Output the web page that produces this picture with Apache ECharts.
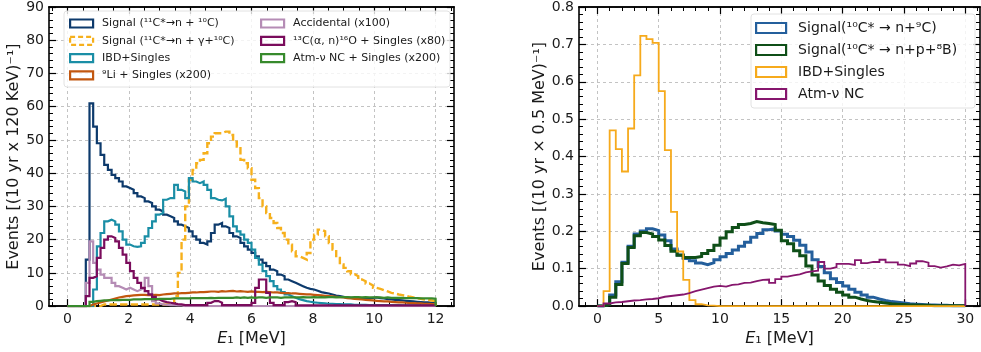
<!DOCTYPE html>
<html>
<head>
<meta charset="utf-8">
<script src="https://cdn.jsdelivr.net/npm/echarts@6/dist/echarts.min.js"></script>
<style>
  html, body { margin: 0; padding: 0; background: #fff; }
  #chart { width: 981px; height: 352px; }
</style>
</head>
<body>
<div id="chart"></div>
<script>
// left panel: 120 keV bins from 0 to 12 MeV
const leftBinWidth = 0.12;
const signalN10C = [
  0, 0, 0, 0, 0, 14, 61, 54, 49, 45.5,
  42.5, 41, 39.5, 38.5, 37.5, 36, 35.5, 35, 34, 33,
  32.5, 31.5, 31, 30, 29, 28.5, 27.5, 27, 26.5, 25.5,
  24.5, 24, 23.5, 22.5, 21, 20, 19, 18.5, 19.5, 22,
  24.5, 25, 24, 23.5, 22, 21, 20.5, 19, 18, 17,
  16, 15, 14, 13, 12, 11, 10.5, 9.5, 9, 8,
  7.5, 7, 6.5, 6, 5.5, 5.2, 5, 4.6, 4.2, 4,
  3.8, 3.5, 3.2, 3, 2.8, 2.6, 2.5, 2.4, 2.3, 2.2,
  2.2, 2.3, 2.5, 2.6, 2.4, 2.3, 2.1, 2, 1.9, 1.8,
  1.7, 1.6, 1.5, 1.4, 1.3, 1.2, 1.1, 1.1, 1, 1
];
const signalNGamma = [
  0, 0, 0, 0, 0, 0, 0, 0, 0, 0.5,
  0.5, 0.5, 0.5, 0.5, 0.5, 0.5, 0.5, 0.5, 0.5, 0.5,
  0.5, 0.5, 0.5, 0.5, 0.5, 0.5, 0.5, 0.5, 0.5, 3,
  10, 20, 30, 38, 41, 43, 44, 46, 49, 51,
  52, 52, 52.5, 52.5, 51.5, 49.5, 48, 44, 43, 41.5,
  38, 35.5, 32.5, 30, 28, 26.5, 25, 23.5, 22, 20,
  18.5, 16.5, 15, 14.5, 14, 16, 20, 21.5, 23, 22.5,
  21, 19, 17, 14.5, 12.5, 11.5, 10.5, 9.6, 9, 8,
  7.5, 6.8, 6.2, 5.5, 5.2, 4.8, 4.4, 4, 3.8, 3.5,
  3.3, 3.1, 2.8, 2.6, 2.4, 2.2, 2, 1.9, 1.7, 1.5
];
const ibdSinglesLeft = [
  0, 0, 0, 0, 0, 0, 0, 5, 18, 22,
  25.5, 26, 25.5, 24.5, 22.5, 20, 18.5, 18, 17.8, 18,
  19, 21, 23.5, 25.5, 27.5, 28, 32, 32.5, 32.5, 36.5,
  35, 34.5, 32.5, 38.5, 37.5, 37, 37.5, 36.5, 35, 32.5,
  32, 31.8, 32.3, 30, 27, 24, 22.5, 21.5, 20, 19,
  17, 14.5, 12.5, 10.5, 9, 7.5, 6, 5, 4.2, 3.5,
  3, 2.5, 2.1, 1.8, 1.5, 1.3, 1.1, 1, 0.9, 0.8,
  0.7, 0.7, 0.6, 0.6, 0.5, 0.5, 0.5, 0.4, 0.4, 0.4,
  0.4, 0.3, 0.3, 0.3, 0.3, 0.3, 0.3, 0.3, 0.3, 0.3,
  0.2, 0.2, 0.2, 0.2, 0.2, 0.2, 0.2, 0.2, 0.2, 0.2
];
const li9Singles = [
  0, 0, 0, 0, 0, 0, 0.5, 0.8, 1.1, 1.4,
  1.7, 2, 2.3, 2.6, 2.8, 3, 3.1, 3.2, 3.3, 3.4,
  3.4, 3.3, 3.3, 3.4, 3.3, 3.5, 3.6, 3.7, 3.8, 3.8,
  3.9, 3.9, 4, 4.1, 4.1, 4.2, 4.2, 4.3, 4.4, 4.4,
  4.3, 4.5, 4.4, 4.5, 4.6, 4.4, 4.5, 4.4, 4.3, 4.4,
  4.3, 4.3, 4.2, 4.3, 4.2, 4.1, 4.1, 4, 3.9, 3.9,
  3.8, 3.8, 3.7, 3.6, 3.5, 3.5, 3.4, 3.3, 3.2, 3.1,
  3, 2.9, 2.8, 2.7, 2.6, 2.4, 2.3, 2.2, 2.1, 2,
  1.9, 1.8, 1.7, 1.6, 1.5, 1.4, 1.4, 1.3, 1.2, 1.1,
  1.1, 1, 0.9, 0.9, 0.8, 0.8, 0.7, 0.7, 0.6, 0.6
];
const accidental = [
  0, 0, 0, 0, 0, 7, 19.5, 13, 11, 9.5,
  8.5, 8.5, 7, 6, 5.5, 5, 5.5, 5, 4.5, 5,
  5.5, 8.5, 6, 1.5, 0.8, 0.5, 0.4, 0.3, 0.3, 0.2,
  0.2, 0, 0, 0, 0, 0, 0, 0, 0, 0,
  0, 0, 0, 0, 0, 0, 0, 0, 0, 0,
  0, 0, 0, 0, 0, 0, 0, 0, 0, 0,
  0, 0, 0, 0, 0, 0, 0, 0, 0, 0,
  0, 0, 0, 0, 0, 0, 0, 0, 0, 0,
  0, 0, 0, 0, 0, 0, 0, 0, 0, 0,
  0, 0, 0, 0, 0, 0, 0, 0, 0, 0
];
const c13Singles = [
  0, 0, 0, 0, 0, 3, 8.5, 9, 14.5, 17.5,
  20, 21, 20.5, 19.5, 17.5, 15.5, 13, 10.5, 8.5, 7,
  5.5, 4.5, 3.5, 2.8, 2, 1.5, 1.2, 1, 0.8, 0.6,
  0.5, 0.3, 0.3, 0.3, 0.3, 0.3, 0.3, 0.3, 1, 1.5,
  1.5, 1, 0.3, 0.3, 0.3, 0.3, 0.3, 0.3, 0.3, 0.3,
  1, 5.5, 8, 8, 4, 1, 0.3, 0.3, 0.3, 1.2,
  1.5, 1.2, 0.2, 0.2, 0.2, 0.2, 0.2, 0.2, 0.2, 0.2,
  0.2, 0.2, 0.2, 0.2, 0.2, 0.2, 0.2, 0.2, 0.2, 0.2,
  0.2, 0.2, 0.2, 0.2, 0.2, 0.2, 0.2, 0.2, 0.2, 0.2,
  0.2, 0.2, 0.2, 0.2, 0.2, 0.2, 0.2, 0.2, 0.2, 0.2
];
const atmNcSingles = [
  0, 0, 0, 0, 0, 0, 1.3, 1.5, 1.6, 1.7,
  1.7, 1.8, 1.8, 1.8, 1.9, 1.9, 1.9, 2, 2, 2,
  2.1, 2.1, 2.1, 2.1, 2.2, 2.2, 2.2, 2.2, 2.3, 2.3,
  2.3, 2.3, 2.3, 2.4, 2.4, 2.4, 2.4, 2.4, 2.5, 2.4,
  2.5, 2.5, 2.5, 2.5, 2.5, 2.6, 2.5, 2.6, 2.5, 2.6,
  2.5, 2.6, 2.6, 2.5, 2.6, 2.6, 2.6, 2.5, 2.6, 2.6,
  2.6, 2.6, 2.6, 2.7, 2.6, 2.6, 2.7, 2.6, 2.7, 2.6,
  2.7, 2.7, 2.6, 2.7, 2.7, 2.7, 2.6, 2.7, 2.7, 2.6,
  2.7, 2.6, 2.6, 2.6, 2.6, 2.5, 2.6, 2.5, 2.5, 2.5,
  2.5, 2.4, 2.4, 2.4, 2.4, 2.3, 2.3, 2.3, 2.3, 2.2
];

// right panel: 0.5 MeV bins from 0 to 30 MeV
const rightBinWidth = 0.5;
const signalN9C = [
  0, 0.005, 0.03, 0.065, 0.117, 0.16, 0.193, 0.201, 0.207, 0.202,
  0.19, 0.175, 0.153, 0.137, 0.127, 0.121, 0.115, 0.111, 0.116, 0.124,
  0.132, 0.141, 0.15, 0.16, 0.171, 0.184, 0.194, 0.204, 0.207, 0.201,
  0.192, 0.186, 0.176, 0.163, 0.145, 0.124, 0.106, 0.089, 0.073, 0.063,
  0.054, 0.045, 0.037, 0.03, 0.024, 0.019, 0.015, 0.012, 0.01, 0.008,
  0.006, 0.005, 0.004, 0.003, 0.003, 0.002, 0.002, 0.001, 0.001, 0.001
];
const signalNP8B = [
  0, 0.004, 0.024, 0.058, 0.114, 0.157, 0.188, 0.197, 0.193, 0.186,
  0.177, 0.162, 0.147, 0.136, 0.13, 0.13, 0.133, 0.141, 0.149, 0.163,
  0.182, 0.199, 0.21, 0.218, 0.221, 0.226, 0.223, 0.221, 0.218, 0.203,
  0.175, 0.167, 0.148, 0.135, 0.107, 0.083, 0.067, 0.055, 0.045, 0.037,
  0.03, 0.024, 0.019, 0.015, 0.012, 0.01, 0.008, 0.006, 0.005, 0.004,
  0.003, 0.003, 0.002, 0.002, 0.001, 0.001, 0.001, 0.001, 0.001, 0.001
];
const ibdSinglesRight = [
  0, 0.04, 0.47, 0.42, 0.36, 0.475, 0.617, 0.723, 0.714, 0.704,
  0.575, 0.417, 0.252, 0.146, 0.07, 0.016, 0.005, 0.002, 0.001, 0,
  0, 0, 0, 0, 0, 0, 0, 0, 0, 0,
  0, 0, 0, 0, 0, 0, 0, 0, 0, 0,
  0, 0, 0, 0, 0, 0, 0, 0, 0, 0,
  0, 0, 0, 0, 0, 0, 0, 0, 0, 0
];
const atmNc = [
  0, 0.007, 0.01, 0.011, 0.013, 0.015, 0.016, 0.018, 0.019, 0.021,
  0.025, 0.027, 0.029, 0.031, 0.035, 0.04, 0.044, 0.048, 0.052, 0.054,
  0.052, 0.057, 0.058, 0.062, 0.063, 0.067, 0.07, 0.071, 0.062, 0.072,
  0.079, 0.082, 0.085, 0.09, 0.093, 0.095, 0.118, 0.1, 0.104, 0.113,
  0.113, 0.11, 0.123, 0.115, 0.118, 0.118, 0.124, 0.117, 0.117, 0.111,
  0.107, 0.114, 0.12, 0.116, 0.107, 0.103, 0.106, 0.111, 0.109, 0.113
];

const leftXTicks = [0, 2, 4, 6, 8, 10, 12];
const rightXTicks = [0, 5, 10, 15, 20, 25, 30];

const FONT = 'DejaVu Sans';
const INK = '#1a1a1a';

function stepData(values, width) {
  const pts = [[0, 0]];
  values.forEach((v, i) => pts.push([+(i * width).toFixed(3), v]));
  const end = +(values.length * width).toFixed(3);
  pts.push([end, values[values.length - 1]]);
  pts.push([end, 0]);
  return pts;
}

function minorList(from, to, step) {
  const out = [];
  for (let v = from; v <= to + 1e-9; v += step) out.push(+v.toFixed(3));
  return out;
}

const gridLine = { show: true, lineStyle: { color: '#b4b4b4', width: 0.8, type: [3, 3] } };
const spine = { show: true, onZero: false, lineStyle: { color: '#000', width: 1.6 } };

function xAxesFor(grid, min, max, major, minor) {
  const base = { type: 'value', gridIndex: grid, min: min, max: max, axisLine: spine };
  return [
    Object.assign({}, base, {
      position: 'bottom',
      axisTick: { inside: true, length: 7, customValues: major, lineStyle: { color: '#000', width: 1.2 } },
      axisLabel: { customValues: major, margin: 6, fontSize: 14, fontFamily: FONT, color: INK },
      splitLine: gridLine,
      name: '{it|E}\u2081 [MeV]', nameLocation: 'middle', nameGap: 19,
      nameTextStyle: { fontSize: 16, fontFamily: FONT, color: INK,
        rich: { it: { fontSize: 16, fontFamily: FONT, fontStyle: 'italic', color: INK } } }
    }),
    Object.assign({}, base, {
      position: 'bottom',
      axisTick: { inside: true, length: 4, customValues: minor, lineStyle: { color: '#000', width: 1 } },
      axisLabel: { show: false }, splitLine: { show: false }
    }),
    Object.assign({}, base, {
      position: 'top',
      axisTick: { inside: true, length: 7, customValues: major, lineStyle: { color: '#000', width: 1.2 } },
      axisLabel: { show: false }, splitLine: { show: false }
    }),
    Object.assign({}, base, {
      position: 'top',
      axisTick: { inside: true, length: 4, customValues: minor, lineStyle: { color: '#000', width: 1 } },
      axisLabel: { show: false }, splitLine: { show: false }
    })
  ];
}

function yAxesFor(grid, max, interval, title, nameGap, digits) {
  const base = {
    type: 'value', gridIndex: grid, min: 0, max: max, interval: interval, axisLine: spine,
    axisTick: { inside: true, length: 7, lineStyle: { color: '#000', width: 1.2 } },
    minorTick: { show: true, splitNumber: 5, length: 4, lineStyle: { color: '#000', width: 1 } }
  };
  return [
    Object.assign({}, base, {
      position: 'left',
      axisLabel: { margin: 5, fontSize: 14, fontFamily: FONT, color: INK,
        formatter: v => v.toFixed(digits) },
      splitLine: gridLine,
      name: title, nameLocation: 'middle', nameGap: nameGap,
      nameTextStyle: { fontSize: 16, fontFamily: FONT, color: INK }
    }),
    Object.assign({}, base, {
      position: 'right', axisLabel: { show: false }, splitLine: { show: false }
    })
  ];
}

function hist(name, values, width, color, lw, xi, yi, dashed) {
  return {
    name: name, type: 'line', step: 'end', symbol: 'none',
    xAxisIndex: xi, yAxisIndex: yi,
    data: stepData(values, width),
    lineStyle: { color: color, width: lw, type: dashed ? [7.4, 3.2] : 'solid', join: 'miter', cap: 'butt' },
    itemStyle: { color: color },
    emphasis: { disabled: true },
    silent: true
  };
}

function legendItem(name, color, dashed) {
  return { name: name, itemStyle: { color: 'rgba(0,0,0,0)', borderColor: color, borderWidth: 2.2,
    borderType: dashed ? [5, 3] : 'solid' } };
}

const C = {
  navy: '#0d3a6c', gold: '#f6b01c', teal: '#1a8ea6', brown: '#c2570f',
  lilac: '#b58cb5', plum: '#7a0c5c', green: '#378a2c',
  blue: '#245f9c', dgreen: '#0f4f18', yellow: '#f6aa1c', purple: '#86166d'
};

const names = {
  n10c: 'Signal (\u00b9\u00b9C*\u2192n + \u00b9\u2070C)',
  ng10c: 'Signal (\u00b9\u00b9C*\u2192n + \u03b3+\u00b9\u2070C)',
  ibd: 'IBD+Singles',
  li9: '\u2079Li + Singles (x200)',
  acc: 'Accidental (x100)',
  c13: '\u00b9\u00b3C(\u03b1, n)\u00b9\u2076O + Singles (x80)',
  atm: 'Atm-\u03bd NC + Singles (x200)',
  n9c: 'Signal(\u00b9\u2070C* \u2192 n+\u2079C)',
  np8b: 'Signal(\u00b9\u2070C* \u2192 n+p+\u2078B)',
  atmR: 'Atm-\u03bd NC'
};

const chart = echarts.init(document.getElementById('chart'), null, { renderer: 'canvas' });

const leftText = { fontSize: 11, fontFamily: FONT, color: INK, lineHeight: 13, padding: [0, 0, 0, 4] };
const rightText = { fontSize: 14, fontFamily: FONT, color: INK, lineHeight: 16, padding: [0, 0, 0, 7] };

chart.setOption({
  animation: false,
  backgroundColor: '#fff',
  grid: [
    { left: 49, top: 5, width: 405, height: 302 },
    { left: 579, top: 5, width: 401, height: 302 }
  ],
  xAxis: [].concat(
    xAxesFor(0, -0.6, 12.6, leftXTicks, minorList(-0.5, 12.5, 0.5)),
    xAxesFor(1, -1.5, 31.2, rightXTicks, minorList(-1, 31, 1))
  ),
  yAxis: [].concat(
    yAxesFor(0, 90, 10, 'Events [(10 yr x 120 KeV)\u207b\u00b9]', 26, 0),
    yAxesFor(1, 0.8, 0.1, 'Events [(10 yr \u00d7 0.5 MeV)\u207b\u00b9]', 29, 1)
  ),
  graphic: [
    { type: 'rect', z: 3, silent: true, shape: { x: 64, y: 11, width: 386, height: 76, r: 3 },
      style: { fill: 'rgba(255,255,255,0.8)', stroke: '#e2e2e2', lineWidth: 1 } },
    { type: 'rect', z: 3, silent: true, shape: { x: 751, y: 14, width: 224, height: 94, r: 3 },
      style: { fill: 'rgba(255,255,255,0.8)', stroke: '#e2e2e2', lineWidth: 1 } }
  ],
  legend: [
    { left: 69, top: 17, orient: 'vertical', icon: 'rect', itemWidth: 23, itemHeight: 8, itemGap: 4.3,
      padding: 0, selectedMode: false, textStyle: leftText,
      data: [legendItem(names.n10c, C.navy), legendItem(names.ng10c, C.gold, true),
             legendItem(names.ibd, C.teal), legendItem(names.li9, C.brown)] },
    { left: 260, top: 17, orient: 'vertical', icon: 'rect', itemWidth: 23, itemHeight: 8, itemGap: 4.3,
      padding: 0, selectedMode: false, textStyle: leftText,
      data: [legendItem(names.acc, C.lilac), legendItem(names.c13, C.plum), legendItem(names.atm, C.green)] },
    { left: 755, top: 20, orient: 'vertical', icon: 'rect', itemWidth: 30, itemHeight: 10, itemGap: 6,
      padding: 0, selectedMode: false, textStyle: rightText,
      data: [legendItem(names.n9c, C.blue), legendItem(names.np8b, C.dgreen),
             legendItem(names.ibd, C.yellow), legendItem(names.atmR, C.purple)] }
  ],
  series: [
    hist(names.n10c, signalN10C, leftBinWidth, C.navy, 2.2, 0, 0),
    hist(names.ng10c, signalNGamma, leftBinWidth, C.gold, 2.4, 0, 0, true),
    hist(names.ibd, ibdSinglesLeft, leftBinWidth, C.teal, 2.2, 0, 0),
    hist(names.li9, li9Singles, leftBinWidth, C.brown, 2.2, 0, 0),
    hist(names.acc, accidental, leftBinWidth, C.lilac, 2.2, 0, 0),
    hist(names.c13, c13Singles, leftBinWidth, C.plum, 2.2, 0, 0),
    hist(names.atm, atmNcSingles, leftBinWidth, C.green, 2.2, 0, 0),
    hist(names.n9c, signalN9C, rightBinWidth, C.blue, 3, 4, 2),
    hist(names.np8b, signalNP8B, rightBinWidth, C.dgreen, 3, 4, 2),
    hist(names.ibd, ibdSinglesRight, rightBinWidth, C.yellow, 1.8, 4, 2),
    hist(names.atmR, atmNc, rightBinWidth, C.purple, 1.8, 4, 2)
  ]
});
</script>
</body>
</html>
